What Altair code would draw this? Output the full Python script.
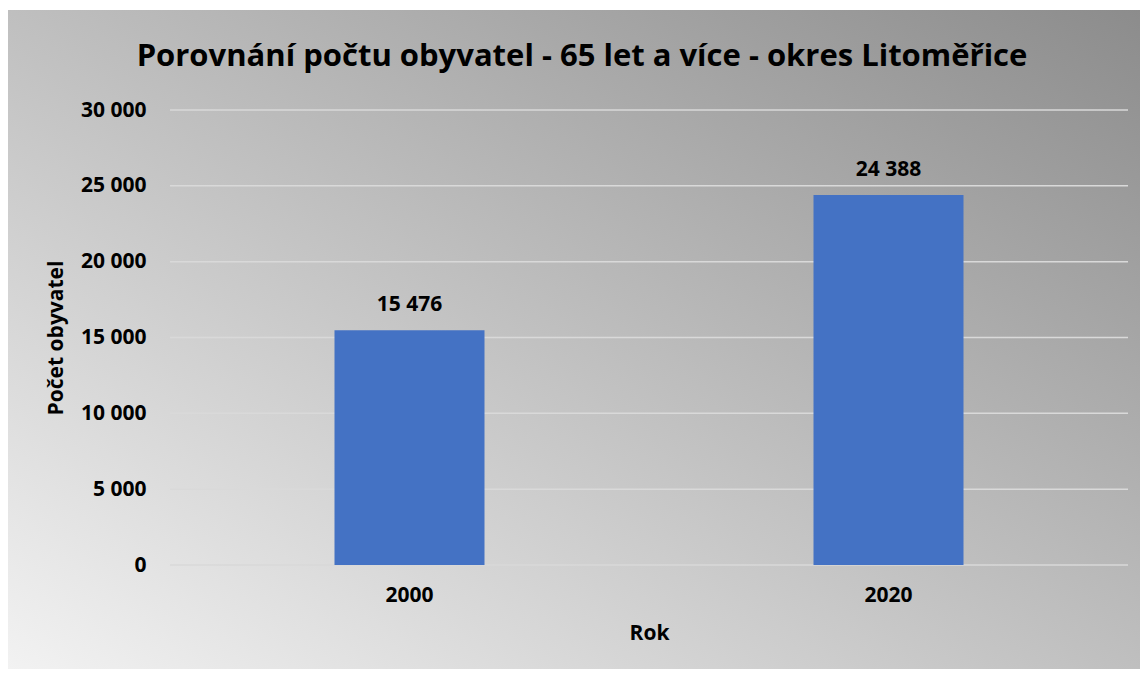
import altair as alt
import pandas as pd

# ---- data ----
years = ["2000", "2020"]
population = [15476, 24388]
y_ticks = [0, 5000, 10000, 15000, 20000, 25000, 30000]

TITLE = "Porovnání počtu obyvatel - 65 let a více - okres Litoměřice"
X_TITLE = "Rok"
Y_TITLE = "Počet obyvatel"

df = pd.DataFrame({"Rok": years, "Pocet": population})
ticks_df = pd.DataFrame({"v": y_ticks})
bg_df = pd.DataFrame({"k": [0]})

W, H = 958, 455
FONT = "Open Sans"
FMT = "replace(format({v}, ','), ',', ' ')"

gradient = {
    "gradient": "linear",
    "x1": 0, "y1": 1, "x2": 1, "y2": 0,
    "stops": [
        {"offset": 0, "color": "#f2f2f2"},
        {"offset": 1, "color": "#8c8c8c"},
    ],
}

yscale = alt.Scale(domain=[0, 30000])
yaxis = alt.Axis(
    title=Y_TITLE, values=y_ticks, grid=False, domain=False, ticks=False,
    tickSize=0, labelPadding=24, titlePadding=14, zindex=1,
    labelExpr=FMT.format(v="datum.value"),
)

background = alt.Chart(bg_df).mark_rect(fill=gradient, strokeWidth=0).encode(
    x=alt.value(-162), x2=alt.value(970), y=alt.value(-100), y2=alt.value(559)
)

grid = alt.Chart(ticks_df).mark_rule(color="#d9d9d9", strokeWidth=1.5).encode(
    y=alt.Y("v:Q", scale=yscale, axis=yaxis, title=Y_TITLE)
)

bars = alt.Chart(df).mark_bar(color="#4472C4", size=150).encode(
    x=alt.X(
        "Rok:N",
        scale=alt.Scale(paddingInner=0, paddingOuter=0),
        axis=alt.Axis(
            title=X_TITLE, labelAngle=0, domain=False, ticks=False, tickSize=0,
            labelPadding=19, titlePadding=17, zindex=1,
        ),
    ),
    y=alt.Y("Pocet:Q", scale=yscale, axis=yaxis, title=Y_TITLE),
)

labels = alt.Chart(df).transform_calculate(
    label=FMT.format(v="datum.Pocet")
).mark_text(dy=-25, fontSize=21, font=FONT, fontWeight="bold", color="#000000").encode(
    x="Rok:N", y="Pocet:Q", text="label:N"
)

chart = alt.layer(background, grid, bars, labels).properties(
    width=W,
    height=H,
    padding={"left": 0, "top": 2, "right": 0, "bottom": 0},
    title=alt.TitleParams(
        TITLE, font=FONT, fontSize=31, fontWeight="bold", color="#000000",
        anchor="middle", frame="bounds", offset=-63, dx=8, zindex=1,
    ),
).configure_view(strokeWidth=0).configure_axis(
    labelFont=FONT, labelFontSize=21, labelFontWeight="bold", labelColor="#000000",
    titleFont=FONT, titleFontSize=21, titleFontWeight="bold", titleColor="#000000",
)

chart.save("out.html", embed_options={"renderer": "svg", "actions": False})
